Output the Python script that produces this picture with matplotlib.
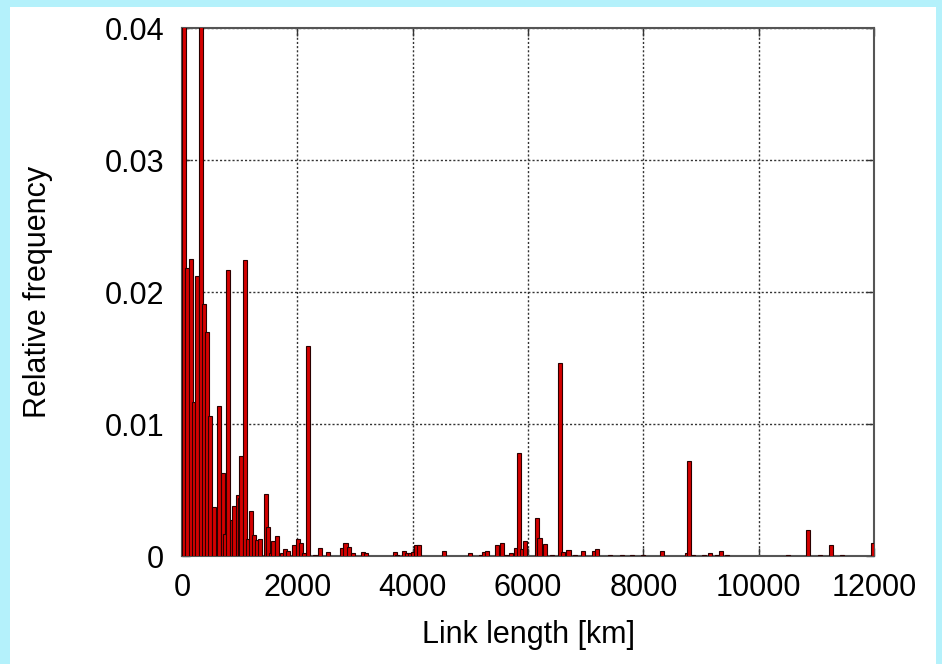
import matplotlib
matplotlib.use("Agg")
import matplotlib.pyplot as plt
from matplotlib.patches import Rectangle
from matplotlib.ticker import FixedLocator, FixedFormatter

# bar centres [km] and relative frequencies
link_km = [40, 95, 150, 211, 265, 335, 385, 430, 490, 558, 645, 711, 754, 803,
           861, 910, 970, 1005, 1028, 1092, 1150, 1192, 1254, 1294, 1352, 1450,
           1496, 1548, 1583, 1641, 1739, 1785, 1842, 1947, 2005, 2062, 2120,
           2184, 2305, 2386, 2536, 2779, 2836, 2894, 2969, 3142, 3189, 3692,
           3735, 3847, 3900, 3952, 4012, 4067, 4107, 4540, 4991, 5194, 5234,
           5290, 5465, 5546, 5615, 5702, 5788, 5849, 5900, 5955, 6152, 6200,
           6298, 6412, 6551, 6609, 6701, 6811, 6950, 7145, 7201, 7426, 7625,
           7807, 7994, 8318, 8752, 8798, 8856, 9052, 9150, 9280, 9353, 9445,
           10502, 10854, 11057, 11256, 11447, 11985]
rel_freq = [0.045, 0.0218, 0.0225, 0.0117, 0.0212, 0.045, 0.0191, 0.0170,
            0.0106, 0.0037, 0.0114, 0.0063, 0.0017, 0.0217, 0.0027, 0.0038,
            0.0046, 0.0044, 0.0076, 0.0224, 0.0013, 0.0034, 0.0016, 0.0012,
            0.0013, 0.0047, 0.0022, 0.0002, 0.0011, 0.0015, 0.0002, 0.0005,
            0.0004, 0.0008, 0.0013, 0.0010, 0.0002, 0.0159, 0.0001, 0.0006,
            0.0003, 0.0006, 0.0010, 0.0007, 0.0002, 0.0003, 0.0002, 0.0003,
            0.0001, 0.0004, 0.0002, 0.0002, 0.0003, 0.0008, 0.0008, 0.0004,
            0.0002, 0.0001, 0.0003, 0.0004, 0.0008, 0.0010, 0.0001, 0.0002,
            0.0006, 0.0078, 0.0005, 0.0011, 0.0029, 0.0014, 0.0009, 0.0001,
            0.0146, 0.0003, 0.00045, 0.0001, 0.0004, 0.0004, 0.0005, 0.0001,
            0.0001, 0.0001, 0.0001, 0.00035, 0.0002, 0.0072, 0.0001, 0.0001,
            0.0002, 0.0001, 0.0004, 0.0001, 0.0001, 0.0020, 0.0001, 0.0008,
            0.0001, 0.0010]

x_ticks = [0, 2000, 4000, 6000, 8000, 10000, 12000]
x_labels = ["0", "2000", "4000", "6000", "8000", "10000", "12000"]
y_ticks = [0, 0.01, 0.02, 0.03, 0.04]
y_labels = ["0", "0.01", "0.02", "0.03", "0.04"]

plt.rcParams["font.family"] = ["Liberation Sans", "DejaVu Sans"]

fig = plt.figure(figsize=(9.42, 6.64), dpi=100, facecolor="#b4f1fb")
# white slide panel behind the plot
fig.patches.append(Rectangle((10 / 942, 0), 926 / 942, 1 - 7 / 664,
                             transform=fig.transFigure, facecolor="white",
                             edgecolor="none", zorder=-10))

ax = fig.add_axes([182 / 942, 1 - 556 / 664, 692 / 942, 528 / 664])
ax.set_facecolor("white")
ax.bar(link_km, rel_freq, width=72, color="#d40000", edgecolor="#2a0000",
       linewidth=0.8, zorder=3)

ax.set_xlim(0, 12000)
ax.set_ylim(0, 0.04)
ax.xaxis.set_major_locator(FixedLocator(x_ticks))
ax.xaxis.set_major_formatter(FixedFormatter(x_labels))
ax.yaxis.set_major_locator(FixedLocator(y_ticks))
ax.yaxis.set_major_formatter(FixedFormatter(y_labels))

ax.set_axisbelow(True)
ax.grid(True, linestyle=(0, (1.5, 1.5)), color="#333333", linewidth=1.0)
ax.tick_params(direction="in", length=6, width=1, top=True, right=True,
               labelsize=22, color="#333333")
ax.tick_params(axis="x", pad=12)
ax.tick_params(axis="y", pad=13)
for s in ax.spines.values():
    s.set_color("#555555")
    s.set_linewidth(1.5)

ax.set_xlabel("Link length [km]", fontsize=22)
ax.set_ylabel("Relative frequency", fontsize=22)
ax.xaxis.set_label_coords(0.5, -0.122)
ax.yaxis.set_label_coords(-0.187, 0.5)

fig.savefig("out.png", dpi=100, facecolor=fig.get_facecolor())
